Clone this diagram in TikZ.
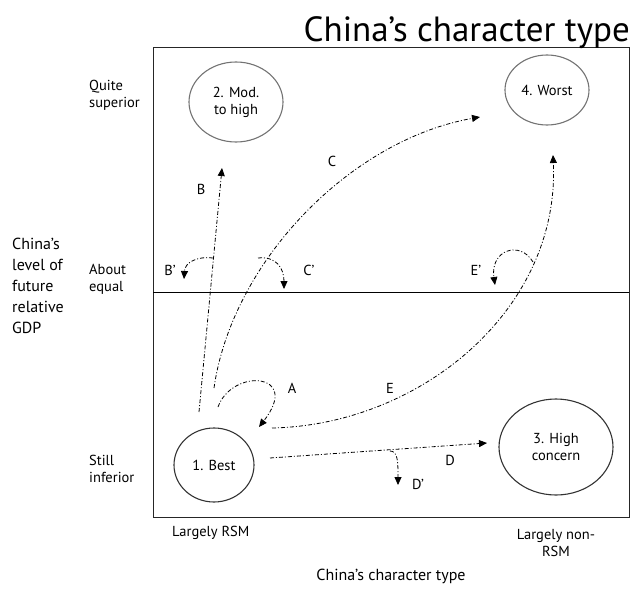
\documentclass[tikz,border=0pt]{standalone}
\usepackage{fontspec}
\setmainfont{PT Sans}
\usetikzlibrary{arrows.meta,shapes.geometric}
\begin{document}
\begin{tikzpicture}[x=1pt,y=-1pt,
  lbl/.style={inner sep=0pt, font=\fontsize{14.5}{17}\selectfont},
  state/.style={ellipse, draw, line width=1.1pt, inner sep=0pt, align=center,
    font=\fontsize{14.5}{17}\selectfont},
  flow/.style={line width=0.8pt, dash pattern=on 4pt off 2pt on 1pt off 2pt,
    -{Triangle[length=8pt,width=7pt]}}]
\useasboundingbox (0,0) rectangle (635,589);

% frame and the "about equal" divider
\draw[line width=0.9pt, draw=black!85] (153,47) rectangle (629,517);
\draw[line width=0.9pt] (153,292) -- (629,292);

% title
\node[inner sep=0pt, anchor=base east, font=\fontsize{35}{38}\selectfont] (title) at (630,41) {China’s character type};

% axis labels
\node[lbl, align=left, anchor=west] (ysup) at (89,95) {Quite\\superior};
\node[lbl, align=left, anchor=west] (yeq) at (89,279) {About\\equal};
\node[lbl, align=left, anchor=west] (yinf) at (89,469) {Still\\inferior};
\node[lbl, align=left, anchor=west, font=\fontsize{16}{21}\selectfont] (yaxis) at (12,286)
  {China’s\\level of\\future\\relative\\GDP};
\node[lbl, anchor=west] (xrsm) at (172,533) {Largely RSM};
\node[lbl, align=center] (xnon) at (556,543) {Largely non-\\RSM};
\node[lbl, font=\fontsize{16}{19}\selectfont] (xaxis) at (391,576) {China’s character type};

% the four states
\node[state, draw=black!55, minimum width=94pt, minimum height=80pt] (s2) at (236,102) {2. Mod.\\to high};
\node[state, draw=black!55, minimum width=84pt, minimum height=70pt] (s4) at (547,90) {4. Worst};
\node[state, draw=black!80, minimum width=80pt, minimum height=74pt] (s1) at (214,465) {1. Best};
\node[state, draw=black!80, minimum width=114pt, minimum height=96pt] (s3) at (556,447) {3. High\\concern};

% path end points
\coordinate (b0) at (199,412);
\coordinate (b1) at (222,168);
\coordinate (bb) at (213,258);
\coordinate (bb1) at (184,279);
\coordinate (c0) at (214,388);
\coordinate (c1) at (480,117);
\coordinate (cc) at (258,258);
\coordinate (cc1) at (284,289);
\coordinate (a0) at (218,407);
\coordinate (a1) at (259,427);
\coordinate (e0) at (272,428);
\coordinate (e1) at (553,155);
\coordinate (ee) at (533,262);
\coordinate (ee1) at (495,285);
\coordinate (d0) at (270,458);
\coordinate (d1) at (487,443);
\coordinate (dd) at (390,451);
\coordinate (dd1) at (398,485);

% transitions
\draw[flow] (b0) -- (b1);
\draw[flow] (bb) .. controls (198,256) and (185,262) .. (bb1);
\draw[flow] (c0) .. controls (232,262) and (350,140) .. (c1);
\draw[flow] (cc) .. controls (276,256) and (284,268) .. (cc1);
\draw[flow] (a0) .. controls (232,368) and (302,372) .. (a1);
\draw[flow] (e0) .. controls (420,425) and (560,310) .. (e1);
\draw[flow] (ee) .. controls (520,240) and (490,250) .. (ee1);
\draw[flow] (d0) -- (d1);
\draw[flow] (dd) .. controls (398,451) and (398,462) .. (dd1);

% path labels
\node[lbl] (lb) at (201,189) {B};
\node[lbl] (lbb) at (170,270) {B’};
\node[lbl] (lc) at (332,161) {C};
\node[lbl] (lcc) at (309,270) {C’};
\node[lbl] (la) at (292,388) {A};
\node[lbl] (le) at (390,388) {E};
\node[lbl] (lee) at (476,270) {E’};
\node[lbl] (ld) at (450,460) {D};
\node[lbl] (ldd) at (418,484) {D’};
\end{tikzpicture}
\end{document}
